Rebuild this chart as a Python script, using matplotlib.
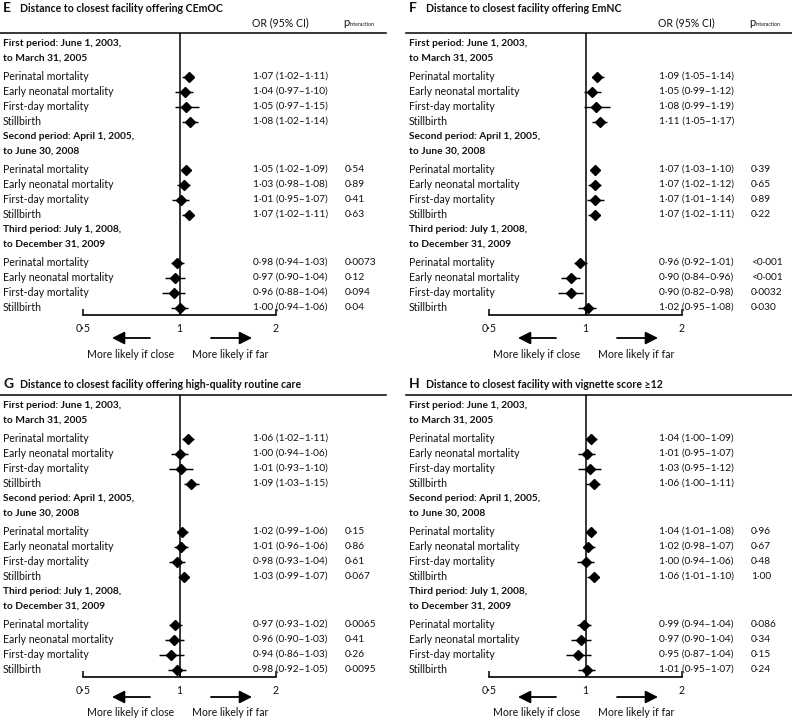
import numpy as np
import matplotlib
matplotlib.use("Agg")
import matplotlib.pyplot as plt

plt.rcParams['font.family'] = ['Lato', 'DejaVu Sans']

# ---- data ----
letters = ["E", "F", "G", "H"]
titles = ["Distance to closest facility offering CEmOC",
          "Distance to closest facility offering EmNC",
          "Distance to closest facility offering high-quality routine care",
          "Distance to closest facility with vignette score \u226512"]

periods = [("First period: June 1, 2003,", "to March 31, 2005"),
           ("Second period: April 1, 2005,", "to June 30, 2008"),
           ("Third period: July 1, 2008,", "to December 31, 2009")]
outcomes = ["Perinatal mortality", "Early neonatal mortality",
            "First-day mortality", "Stillbirth"]

# odds ratios, 3 periods x 4 outcomes
or_e = [1.07, 1.04, 1.05, 1.08, 1.05, 1.03, 1.01, 1.07, 0.98, 0.97, 0.96, 1.00]
lo_e = [1.02, 0.97, 0.97, 1.02, 1.02, 0.98, 0.95, 1.02, 0.94, 0.90, 0.88, 0.94]
hi_e = [1.11, 1.10, 1.15, 1.14, 1.09, 1.08, 1.07, 1.11, 1.03, 1.04, 1.04, 1.06]
p_e = ["", "", "", "", "0·54", "0·89", "0·41", "0·63", "0·0073", "0·12", "0·094", "0·04"]

or_f = [1.09, 1.05, 1.08, 1.11, 1.07, 1.07, 1.07, 1.07, 0.96, 0.90, 0.90, 1.02]
lo_f = [1.05, 0.99, 0.99, 1.05, 1.03, 1.02, 1.01, 1.02, 0.92, 0.84, 0.82, 0.95]
hi_f = [1.14, 1.12, 1.19, 1.17, 1.10, 1.12, 1.14, 1.11, 1.01, 0.96, 0.98, 1.08]
p_f = ["", "", "", "", "0·39", "0·65", "0·89", "0·22", "<0·001", "<0·001", "0·0032", "0·030"]

or_g = [1.06, 1.00, 1.01, 1.09, 1.02, 1.01, 0.98, 1.03, 0.97, 0.96, 0.94, 0.98]
lo_g = [1.02, 0.94, 0.93, 1.03, 0.99, 0.96, 0.93, 0.99, 0.93, 0.90, 0.86, 0.92]
hi_g = [1.11, 1.06, 1.10, 1.15, 1.06, 1.06, 1.04, 1.07, 1.02, 1.03, 1.03, 1.05]
p_g = ["", "", "", "", "0·15", "0·86", "0·61", "0·067", "0·0065", "0·41", "0·26", "0·0095"]

or_h = [1.04, 1.01, 1.03, 1.06, 1.04, 1.02, 1.00, 1.06, 0.99, 0.97, 0.95, 1.01]
lo_h = [1.00, 0.95, 0.95, 1.00, 1.01, 0.98, 0.94, 1.01, 0.94, 0.90, 0.87, 0.95]
hi_h = [1.09, 1.07, 1.12, 1.11, 1.08, 1.07, 1.06, 1.10, 1.04, 1.04, 1.04, 1.07]
p_h = ["", "", "", "", "0·96", "0·67", "0·48", "1·00", "0·086", "0·34", "0·15", "0·24"]

ticks = [0.5, 1, 2]
tick_labels = ["0·5", "1", "2"]

panels = [(or_e, lo_e, hi_e, p_e), (or_f, lo_f, hi_f, p_f),
          (or_g, lo_g, hi_g, p_g), (or_h, lo_h, hi_h, p_h)]


def fmt(v):
    return ("%.2f" % v).replace(".", "·")


# ---- layout (pixels) ----
W, H = 792, 720
AW, AH = 193, 282
# left edge of plot area, top line of plot area, has column header
spots = [(83, 33, True), (489, 33, True), (83, 395, False), (489, 395, False)]
FS = 7.6      # row labels
FSN = 7.3     # numbers
FSB = 7.3     # bold period headers
INK = "#111111"

fig = plt.figure(figsize=(W / 100, H / 100), dpi=100)

# row positions (in row units)
row_y = []
head_y = []
y = 0.0
for k in range(3):
    head_y.append((y, y + 1))
    y += 2.2
    for j in range(4):
        row_y.append(y)
        y += 1

for n, (left, top, header) in enumerate(spots):
    ors, los, his, ps = panels[n]
    ax = fig.add_axes([left / W, 1 - (top + AH) / H, AW / W, AH / H])
    ax.set_xscale("log")
    ax.set_xlim(0.5, 2)
    ax.set_ylim(18.1, -0.7)

    def fx(px):
        return px / AW

    def fy(px):
        return 1 + px / AH

    err = [np.array(ors) - np.array(los), np.array(his) - np.array(ors)]
    ax.errorbar(ors, row_y, xerr=err, fmt="D", color="black", ms=5.4,
                elinewidth=1.05, capsize=0, zorder=3)
    ax.axvline(1, color="black", lw=1.1, zorder=2)

    for s in ["top", "left", "right"]:
        ax.spines[s].set_visible(False)
    ax.spines["bottom"].set_linewidth(1.2)
    ax.set_yticks([])
    ax.set_xticks(ticks)
    ax.set_xticklabels(tick_labels)
    ax.xaxis.set_minor_locator(matplotlib.ticker.NullLocator())
    ax.tick_params(axis="x", direction="in", length=4, width=1.1,
                   labelsize=FS, pad=6, labelcolor=INK)

    tr = ax.get_yaxis_transform()
    for k in range(3):
        for line, yy in zip(periods[k], head_y[k]):
            ax.text(fx(-80), yy, line, transform=tr, va="center",
                    fontweight="bold", fontsize=FSB, color=INK)
    for i in range(12):
        ax.text(fx(-80), row_y[i], outcomes[i % 4], transform=tr, va="center",
                fontsize=FS, color=INK)
        ax.text(fx(170), row_y[i],
                "%s (%s\u2013%s)" % (fmt(ors[i]), fmt(los[i]), fmt(his[i])),
                transform=tr, va="center", fontsize=FSN, color=INK)
        if ps[i]:
            ax.text(fx(262), row_y[i], ps[i], transform=tr, va="center",
                    fontsize=FSN, color=INK)

    # top rule
    ax.plot([fx(-83), fx(303)], [1, 1], transform=ax.transAxes, color="black",
            lw=1.1, clip_on=False)

    # title
    ttl_y = 25 if header else 11
    ax.text(fx(-80), fy(ttl_y), letters[n], transform=ax.transAxes, va="center",
            fontsize=10, fontweight="bold", color=INK)
    ax.text(fx(-63), fy(ttl_y), titles[n], transform=ax.transAxes, va="center",
            fontsize=7.6, fontweight="bold", color=INK)
    if header:
        ax.text(fx(169), fy(10), "OR (95% CI)", transform=ax.transAxes,
                va="center", fontsize=FS, color=INK)
        ax.text(fx(260), fy(10), "p", transform=ax.transAxes, va="center",
                fontsize=FS + 0.4, color=INK)
        ax.text(fx(267), fy(8), "interaction", transform=ax.transAxes,
                va="center", fontsize=3.8, color=INK)

    # direction arrows
    ay = -(23 if header else 20) / AH
    ty = -(39 if header else 36) / AH
    ap = dict(arrowstyle="-|>,head_length=0.75,head_width=0.38", color="black",
              lw=1.3, shrinkA=0, shrinkB=0)
    ax.annotate("", xy=(fx(29), ay), xytext=(fx(67), ay),
                xycoords="axes fraction", arrowprops=ap)
    ax.annotate("", xy=(fx(169), ay), xytext=(fx(128), ay),
                xycoords="axes fraction", arrowprops=ap)
    ax.text(fx(48), ty, "More likely if close", transform=ax.transAxes,
            ha="center", va="center", fontsize=FS, color=INK)
    ax.text(fx(147), ty, "More likely if far", transform=ax.transAxes,
            ha="center", va="center", fontsize=FS, color=INK)

fig.savefig("out.png", dpi=100)
